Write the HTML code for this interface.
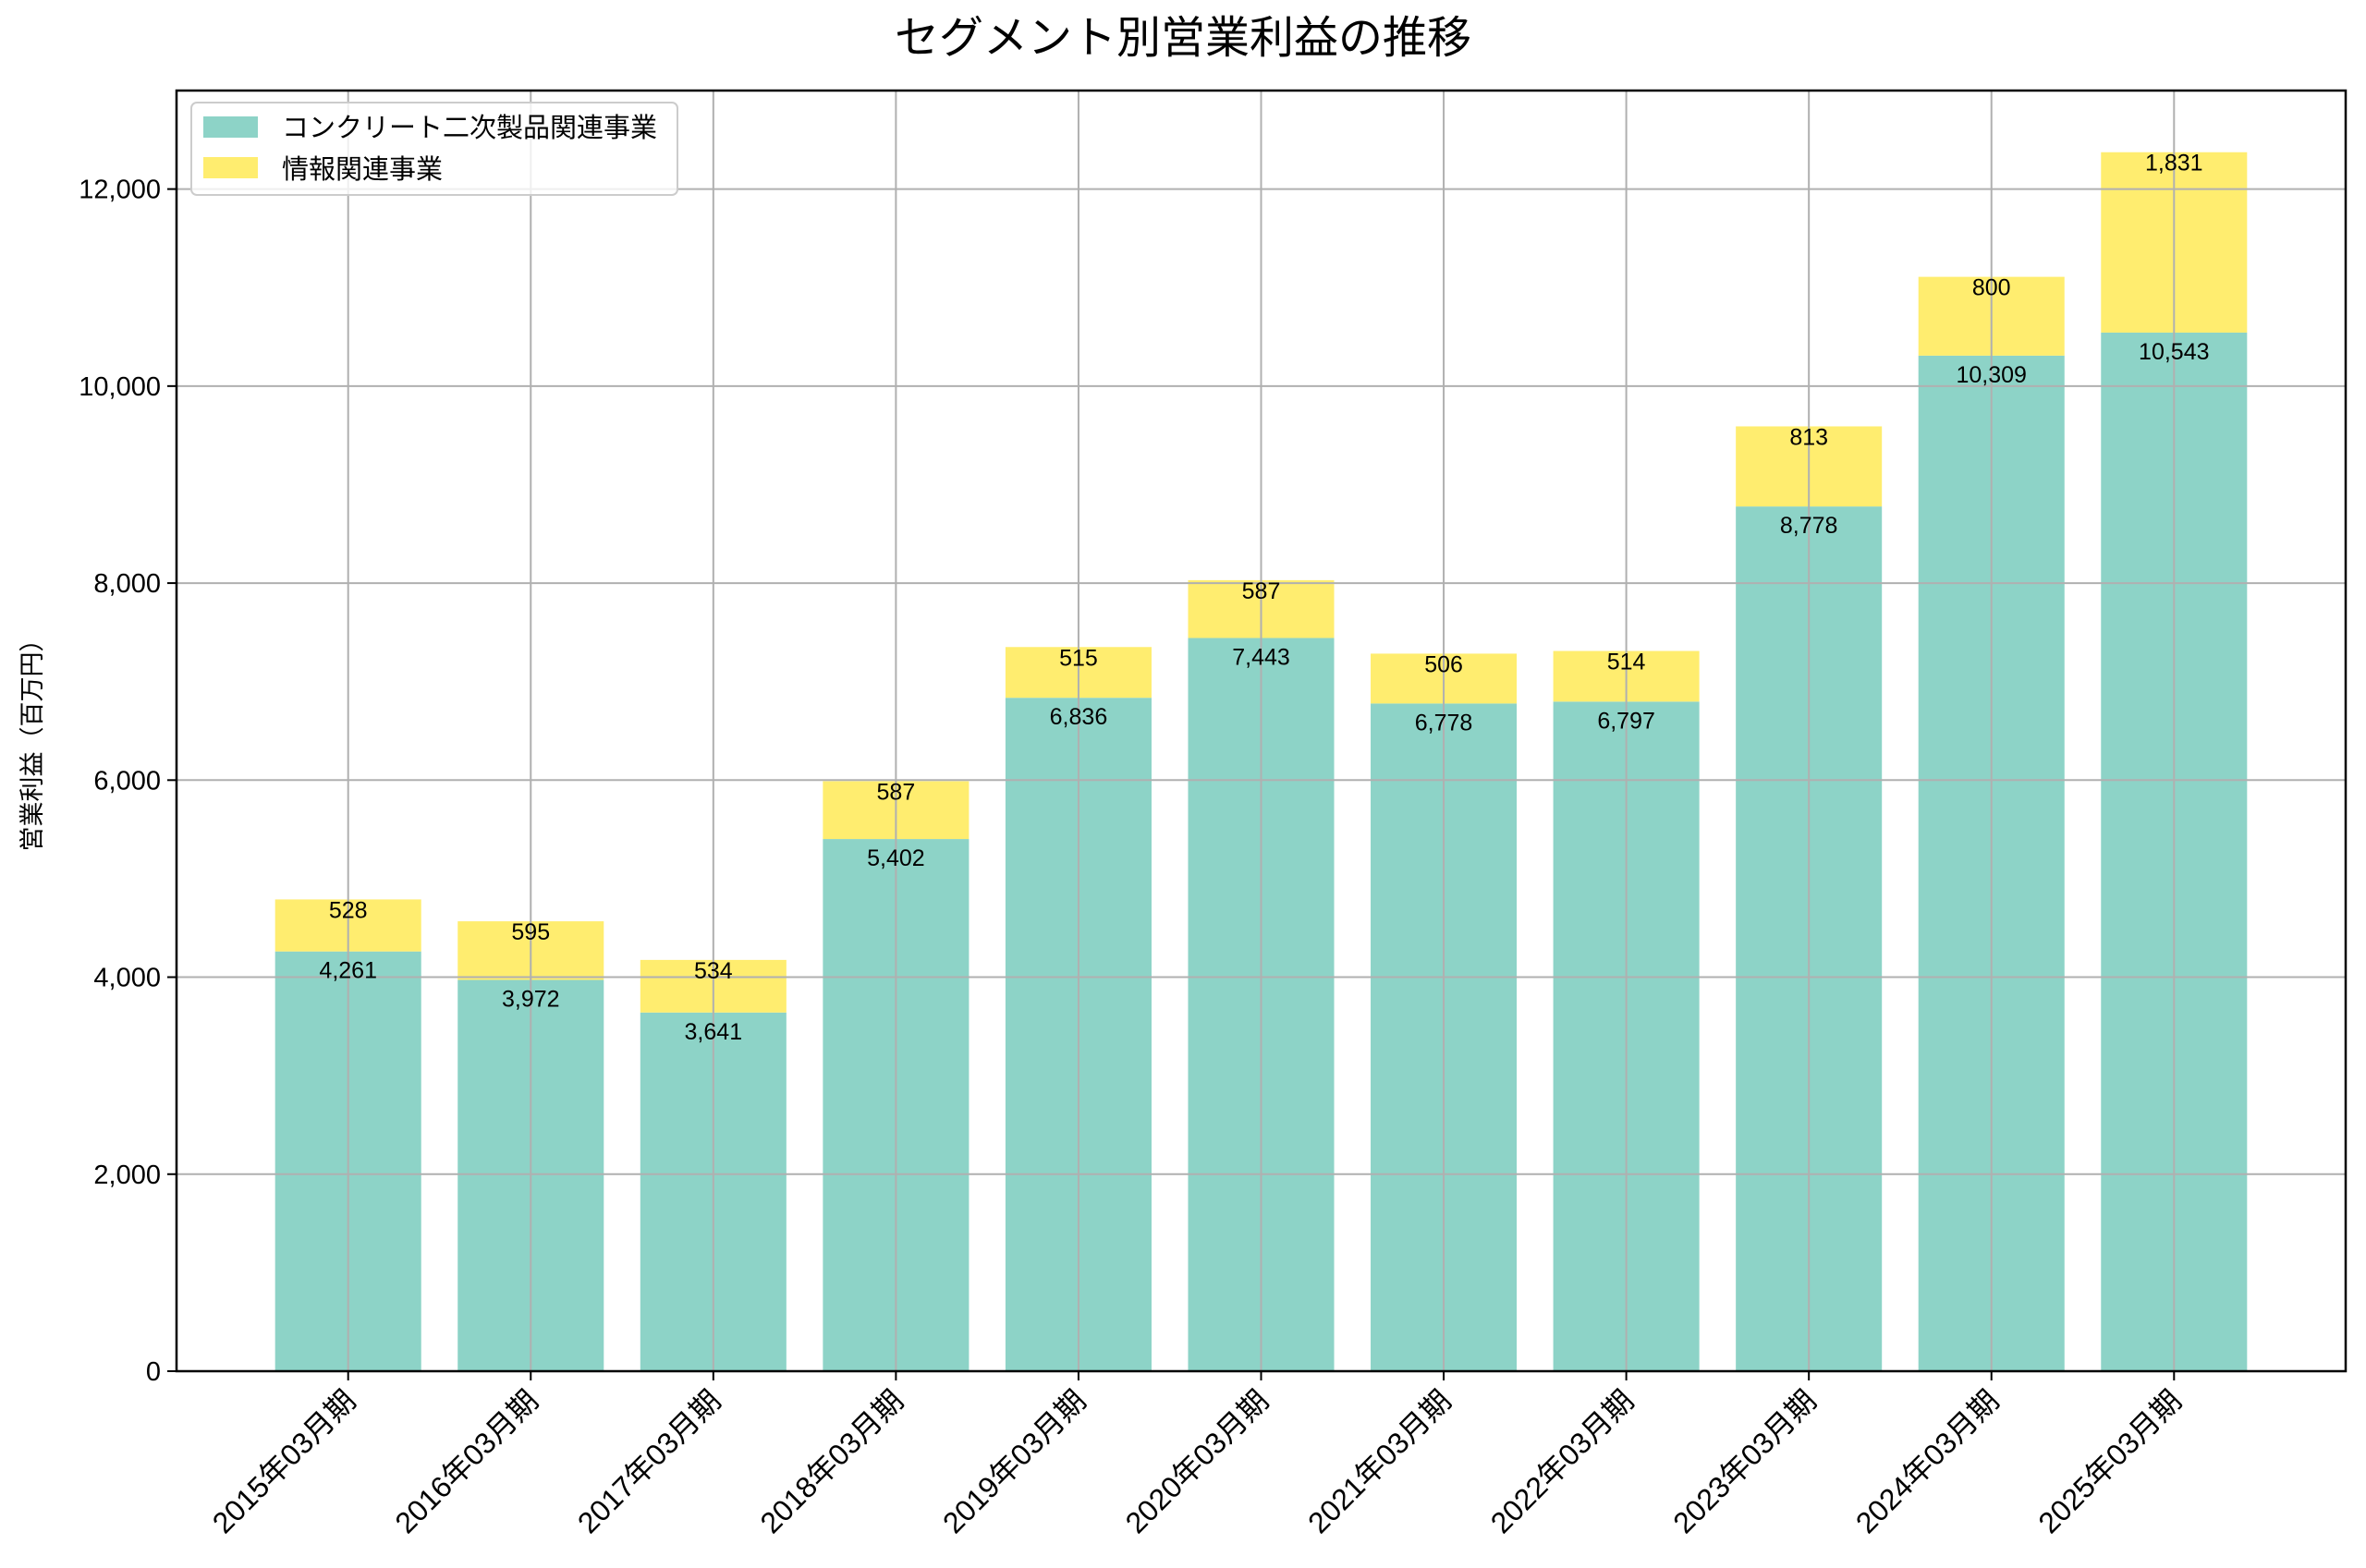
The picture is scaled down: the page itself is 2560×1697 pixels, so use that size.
<!DOCTYPE html>
<html><head><meta charset="utf-8"><style>
html,body{margin:0;padding:0;background:#fff;}
svg{display:block;font-family:"Liberation Sans","Noto Sans CJK JP",sans-serif;}
</style></head><body>
<svg id="chart" width="2560" height="1697" viewBox="0 0 2560 1697" xmlns="http://www.w3.org/2000/svg">
<rect width="2560" height="1697" fill="#fff"/>
<text x="1280" y="57" text-anchor="middle" font-size="48" fill="#000">セグメント別営業利益の推移</text>
<text transform="translate(44,800) rotate(-90)" text-anchor="middle" font-size="27" fill="#000">営業利益（百万円）</text>
<g id="grid"></g>
<g id="bars"></g>
<g id="gridover"></g>
<g id="labels"></g>
<g id="axes"></g>
<g>
<rect x="207" y="111" width="526" height="100" rx="6" fill="#fff" fill-opacity="0.8" stroke="#cccccc" stroke-width="2"/>
<rect x="220" y="126" width="59" height="23" fill="#8dd3c7"/>
<text x="305" y="148" font-size="29">コンクリート二次製品関連事業</text>
<rect x="220" y="170" width="59" height="23" fill="#ffed6f"/>
<text x="305" y="193" font-size="29">情報関連事業</text>
</g>
</svg>
<script>
const categories=["2015年03月期","2016年03月期","2017年03月期","2018年03月期","2019年03月期","2020年03月期","2021年03月期","2022年03月期","2023年03月期","2024年03月期","2025年03月期"];
const concreteValues=[4261,3972,3641,5402,6836,7443,6778,6797,8778,10309,10543];
const infoValues=[528,595,534,587,515,587,506,514,813,800,1831];
const yTicks=[0,2000,4000,6000,8000,10000,12000];
const NS="http://www.w3.org/2000/svg";
const L=191,R=2538,T=98,B=1484,YMAX=13000;
const xmin=-0.94,xmax=categories.length-1+0.94;
function xs(i){return L+(i-xmin)/(xmax-xmin)*(R-L);}
function ys(v){return B-v/YMAX*(B-T);}
const bw=0.8*(xs(1)-xs(0));
function mk(tag,attrs,parent){const e=document.createElementNS(NS,tag);for(const k in attrs)e.setAttribute(k,attrs[k]);parent.appendChild(e);return e;}
const grid=document.getElementById('grid'),bars=document.getElementById('bars'),gover=document.getElementById('gridover'),labels=document.getElementById('labels'),axes=document.getElementById('axes');
function fmt(v){return v.toLocaleString('en-US');}
categories.forEach((c,i)=>{
  const x=xs(i);
  const r1=mk('rect',{x:x-bw/2,y:ys(concreteValues[i]),width:bw,height:B-ys(concreteValues[i]),fill:'#8dd3c7'},bars);
  
  
  const top=concreteValues[i]+infoValues[i];
  const r2=mk('rect',{x:x-bw/2,y:ys(top),width:bw,height:ys(concreteValues[i])-ys(top),fill:'#ffed6f'},bars);
  
  
  const g=mk('line',{x1:x,x2:x,y1:T,y2:B,stroke:'#b0b0b0','stroke-width':2},gover);
  
  
  const t1=mk('text',{x:x,y:ys(concreteValues[i])+29,'text-anchor':'middle','font-size':25},labels);
  t1.textContent=fmt(concreteValues[i]);
  
  
  const t2=mk('text',{x:x,y:ys(top)+20,'text-anchor':'middle','font-size':25},labels);
  t2.textContent=fmt(infoValues[i]);
  
  
  const tk=mk('line',{x1:x,x2:x,y1:B,y2:B+10,stroke:'#000','stroke-width':2},axes);
  
  
  const tl=mk('text',{x:0,y:0,'text-anchor':'end','font-size':32,transform:'translate('+(x+10)+','+(B+34)+') rotate(-45)'},axes);
  tl.textContent=c;
  
  
});
yTicks.forEach(v=>{
  const y=ys(v);
  const g=mk('line',{x1:L,x2:R,y1:y,y2:y,stroke:'#b0b0b0','stroke-width':2},gover);
  
  
  const tk=mk('line',{x1:L-10,x2:L,y1:y,y2:y,stroke:'#000','stroke-width':2},axes);
  
  
  const tl=mk('text',{x:L-17,y:y+10,'text-anchor':'end','font-size':29},axes);
  tl.textContent=fmt(v);
  
  
});
const fr=mk('rect',{x:L,y:T,width:R-L,height:B-T,fill:'none',stroke:'#000','stroke-width':2.5},axes);


</script>
</body></html>
